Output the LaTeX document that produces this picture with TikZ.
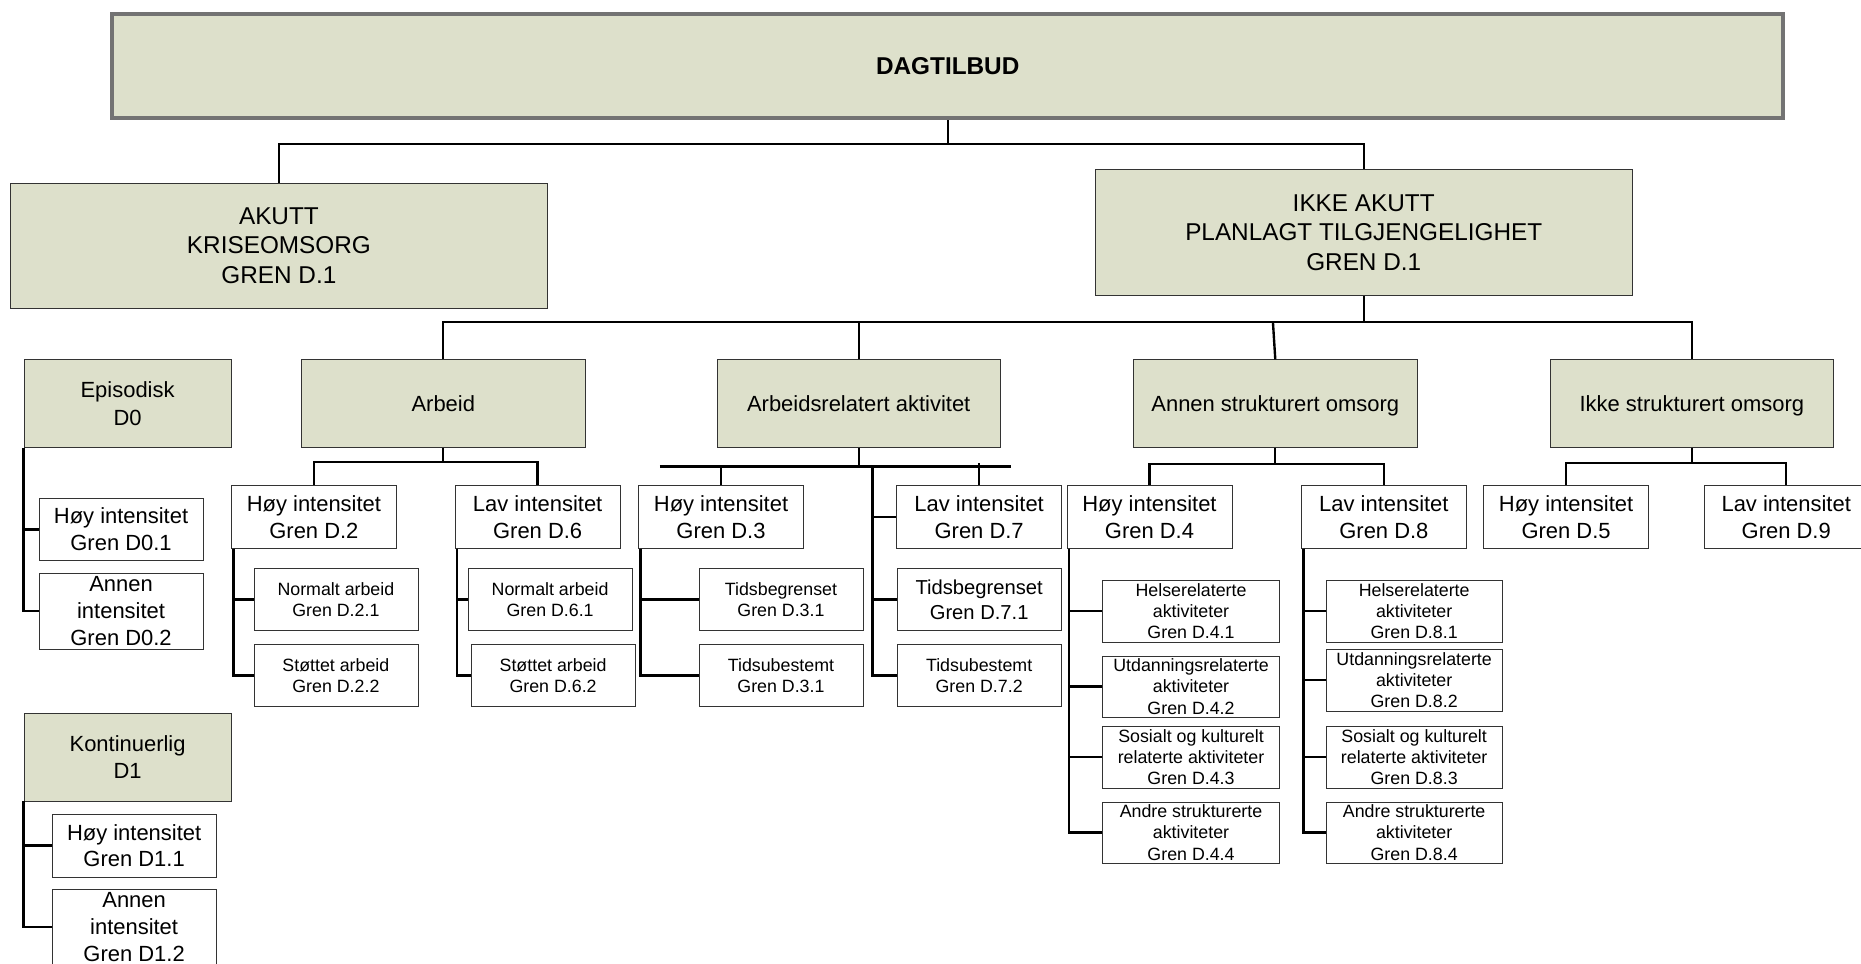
\documentclass[tikz,border=0pt]{standalone}
\usepackage{fontspec}
\setmainfont{Liberation Sans}
\usepackage{tikz}
\definecolor{boxfill}{RGB}{221,224,203}
\tikzset{
  gbox/.style={draw=black!80,fill=boxfill,inner sep=0pt,align=center,font=\fontsize{18.5}{23}\selectfont,minimum width=239,minimum height=74},
  hbox/.style={gbox,minimum width=452,minimum height=106,font=\fontsize{20.5}{25}\selectfont},
  wbox/.style={draw=black!80,fill=white,inner sep=0pt,align=center,font=\fontsize{18.5}{22.5}\selectfont,minimum width=139,minimum height=53},
  sbox/.style={draw=black!80,fill=white,inner sep=0pt,align=center,font=\fontsize{15}{18}\selectfont,minimum width=138,minimum height=52},
  conn/.style={line width=2pt},
}

\begin{document}
\begin{tikzpicture}[x=1pt,y=-1pt]
  \useasboundingbox (0,0) rectangle (1568,812);
  \node[gbox,draw=black!55,line width=3.5pt,minimum width=1408,minimum height=88,font=\fontsize{20.5}{25}\selectfont\bfseries] (top) at (798.5,55.5) {DAGTILBUD};
  \node[hbox] (akutt) at (235,207) {AKUTT\\KRISEOMSORG\\GREN D.1};
  \node[hbox] (ikke) at (1149,196) {IKKE AKUTT\\PLANLAGT TILGJENGELIGHET\\GREN D.1};

  \node[gbox,minimum width=175] (episod) at (107.5,340) {Episodisk\\D0};
  \node[gbox,minimum width=175] (kontin) at (107.5,638) {Kontinuerlig\\D1};
  \node[gbox] (arbeid) at (373.5,340) {Arbeid};
  \node[gbox] (arbrel) at (723.5,340) {Arbeidsrelatert aktivitet};
  \node[gbox,text depth=0pt] (annen) at (1074.5,340) {Annen strukturert omsorg};
  \node[gbox,text depth=0pt] (ikkestr) at (1425.5,340) {Ikke strukturert omsorg};

  \node[wbox] (d2) at (264.5,435.5) {Høy intensitet\\Gren D.2};
  \node[wbox] (d6) at (453,435.5) {Lav intensitet\\Gren D.6};
  \node[wbox] (d3) at (607.5,435.5) {Høy intensitet\\Gren D.3};
  \node[wbox] (d7) at (825,435.5) {Lav intensitet\\Gren D.7};
  \node[wbox] (d4) at (968.5,435.5) {Høy intensitet\\Gren D.4};
  \node[wbox] (d8) at (1166,435.5) {Lav intensitet\\Gren D.8};
  \node[wbox] (d5) at (1319.5,435.5) {Høy intensitet\\Gren D.5};
  \node[wbox] (d9) at (1505,435.5) {Lav intensitet\\Gren D.9};

  \node[wbox,minimum width=138,minimum height=52] (d01) at (102,446) {Høy intensitet\\Gren D0.1};
  \node[wbox,minimum width=138,minimum height=64] (d02) at (102,515) {Annen\\intensitet\\Gren D0.2};
  \node[wbox,minimum width=138] (d11) at (113,712.5) {Høy intensitet\\Gren D1.1};
  \node[wbox,minimum width=138,minimum height=64] (d12) at (113,781) {Annen\\intensitet\\Gren D1.2};

  \node[sbox] (d21) at (283,505) {Normalt arbeid\\Gren D.2.1};
  \node[sbox] (d22) at (283,569) {Støttet arbeid\\Gren D.2.2};
  \node[sbox] (d61) at (463.5,505) {Normalt arbeid\\Gren D.6.1};
  \node[sbox] (d62) at (466,569) {Støttet arbeid\\Gren D.6.2};
  \node[sbox] (d31) at (658,505) {Tidsbegrenset\\Gren D.3.1};
  \node[sbox] (d32) at (658,569) {Tidsubestemt\\Gren D.3.1};
  \node[sbox,font=\fontsize{17}{21}\selectfont] (d71) at (825,505) {Tidsbegrenset\\Gren D.7.1};
  \node[sbox] (d72) at (825,569) {Tidsubestemt\\Gren D.7.2};

  \node[sbox,minimum width=149] (d41) at (1003.5,515) {Helserelaterte\\aktiviteter\\Gren D.4.1};
  \node[sbox,minimum width=149] (d42) at (1003.5,578.5) {Utdanningsrelaterte\\aktiviteter\\Gren D.4.2};
  \node[sbox,minimum width=149] (d43) at (1003.5,638) {Sosialt og kulturelt\\relaterte aktiviteter\\Gren D.4.3};
  \node[sbox,minimum width=149] (d44) at (1003.5,701.5) {Andre strukturerte\\aktiviteter\\Gren D.4.4};
  \node[sbox,minimum width=149] (d81) at (1191.5,515) {Helserelaterte\\aktiviteter\\Gren D.8.1};
  \node[sbox,minimum width=149] (d82) at (1191.5,573) {Utdanningsrelaterte\\aktiviteter\\Gren D.8.2};
  \node[sbox,minimum width=149] (d83) at (1191.5,638) {Sosialt og kulturelt\\relaterte aktiviteter\\Gren D.8.3};
  \node[sbox,minimum width=149] (d84) at (1191.5,701.5) {Andre strukturerte\\aktiviteter\\Gren D.8.4};

  \draw[conn] (top.south) -- ++(0,20) coordinate (j0);
  \draw[conn] (akutt.north) |- (j0) -| (ikke.north);
  \draw[conn] (ikke.south) -- ++(0,22) coordinate (j1);
  \draw[conn] (arbeid.north) |- (j1) -| (ikkestr.north);
  \draw[conn] (arbrel.north) -- (arbrel.north |- j1);
  \draw[conn] (annen.north) -- ([xshift=-2pt]annen.north |- j1);

  \draw[conn] (arbeid.south) -- ++(0,12) coordinate (j2);
  \draw[conn] (d2.north) |- (j2) -| (d6.north);
  \draw[conn] (arbrel.south) -- ++(0,16) coordinate (j3);
  \coordinate (barL) at (556,393);
  \coordinate (barR) at (852,393);
  \coordinate (j7) at (735,393);
  \draw[conn] (barL) -- (barR);
  \draw[conn] (d3.north) -- (d3.north |- j3);
  \draw[conn] (d7.north) -- ([yshift=3pt]d7.north |- j3);
  \foreach \c in {d7,d71,d72}
    \draw[conn] (j7) |- (\c.west);
  \draw[conn] (annen.south) -- ++(0,14) coordinate (j4);
  \draw[conn] (d4.north) |- (j4) -| (d8.north);
  \draw[conn] (ikkestr.south) -- ++(0,13) coordinate (j5);
  \draw[conn] (d5.north) |- (j5) -| (d9.north);

  \foreach \p/\c in {episod/d01,episod/d02,kontin/d11,kontin/d12}
    \draw[conn] (\p.south west) |- (\c.west);
  \foreach \p/\c in {d2/d21,d2/d22,d6/d61,d6/d62,d3/d31,d3/d32,d4/d41,d4/d42,d4/d43,d4/d44,d8/d81,d8/d82,d8/d83,d8/d84}
    \draw[conn] ([xshift=2pt]\p.south west) |- (\c.west);
\end{tikzpicture}
\end{document}
